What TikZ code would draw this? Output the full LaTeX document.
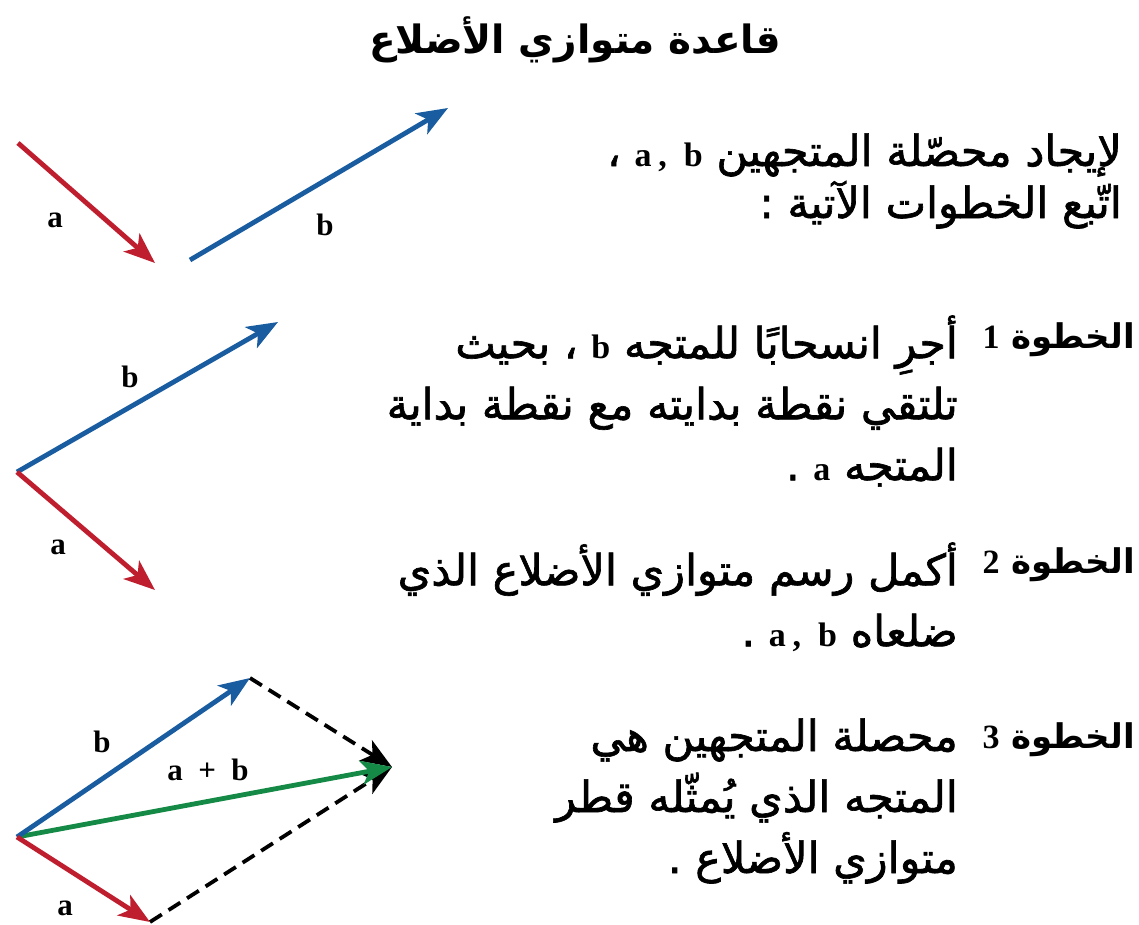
\documentclass[tikz,border=0pt]{standalone}
\usepackage{fontspec}
\setmainfont{Liberation Serif}
\newfontfamily\arabicfont[Script=Arabic]{DejaVu Sans}
\newfontfamily\arabicbody[Script=Arabic, FakeBold=1.5]{DejaVu Sans}
\TeXXeTstate=1
\usepackage{tikz}
\usetikzlibrary{arrows.meta}
\definecolor{vecred}{RGB}{190,30,45}
\definecolor{vecblue}{RGB}{25,92,160}
\definecolor{vecgreen}{RGB}{20,138,70}
\newcommand{\artext}[1]{\beginR#1\endR}
\newcommand{\lat}[1]{\beginL{\rmfamily\bfseries\fontsize{34}{38}\selectfont #1}\endL{}}
\newcommand{\ab}{a\hspace{0.2em},\hspace{0.5em}b}
\tikzstyle{vec} = [line width=4.8pt, -{Stealth[length=31pt, width=24pt, inset=8pt]}]
\tikzstyle{guide} = [vec, black, line width=3.8pt, dash pattern=on 14pt off 8pt]
\tikzstyle{veclabel} = [inner sep=0pt, font=\bfseries\fontsize{31}{34}\selectfont]
\tikzstyle{para} = [anchor=east, inner sep=0pt, align=right, font=\arabicbody\fontsize{43}{61}\selectfont]
\tikzstyle{steplabel} = [anchor=east, inner sep=0pt, font=\arabicfont\bfseries\fontsize{34}{40}\selectfont]
\tikzstyle{heading} = [inner sep=0pt, font=\arabicfont\bfseries\fontsize{39}{44}\selectfont]

\begin{document}
\begin{tikzpicture}[x=1pt, y=-1pt]
  \useasboundingbox (0,0) rectangle (1139,925);

  % title and introduction
  \node[heading] (title) at (575,40) {\artext{قاعدة متوازي الأضلاع}};
  \node[para, font=\arabicbody\fontsize{43}{52}\selectfont] (intro) at (1122,181)
    {\artext{لإيجاد محصّلة المتجهين \lat{\ab} ،}\\
     \artext{اتّبع الخطوات الآتية :}};

  % steps
  \node[steplabel] (step1) at (1135,340) {\artext{الخطوة \lat{1}}};
  \node[para] (step1txt) at (958,401)
    {\artext{أجرِ انسحابًا للمتجه \lat{b} ، بحيث}\\
     \artext{تلتقي نقطة بدايته مع نقطة بداية}\\
     \artext{المتجه \lat{a} .}};
  \node[steplabel] (step2) at (1135,565) {\artext{الخطوة \lat{2}}};
  \node[para] (step2txt) at (958,597)
    {\artext{أكمل رسم متوازي الأضلاع الذي}\\
     \artext{ضلعاه \lat{\ab} .}};
  \node[steplabel] (step3) at (1135,740) {\artext{الخطوة \lat{3}}};
  \node[para] (step3txt) at (958,801)
    {\artext{محصلة المتجهين هي}\\
     \artext{المتجه الذي يُمثّله قطر}\\
     \artext{متوازي الأضلاع .}};

  % vectors a and b apart
  \coordinate (a0) at (18,143);
  \coordinate (a1) at (155,263);
  \coordinate (b0) at (190,260);
  \coordinate (b1) at (448,108);
  \draw[vec, vecred] (a0) -- (a1);
  \draw[vec, vecblue] (b0) -- (b1);
  \node[veclabel] (la) at (55,220) {a};
  \node[veclabel] (lb) at (325,225) {b};

  % b moved to the tail of a
  \coordinate (o2) at (17,472);
  \coordinate (b2) at (278,322);
  \coordinate (a2) at (155,590);
  \draw[vec, vecblue] (o2) -- (b2);
  \draw[vec, vecred] (o2) -- (a2);
  \node[veclabel] (lb2) at (130,377) {b};
  \node[veclabel] (la2) at (58,547) {a};

  % parallelogram and resultant
  \coordinate (o3) at (17,837);
  \coordinate (b3) at (250,678);
  \coordinate (a3) at (150,922);
  \coordinate (s3) at (392,767);
  \draw[guide] (b3) -- (s3);
  \draw[guide] (a3) -- (s3);
  \draw[vec, vecgreen] (o3) -- (s3);
  \draw[vec, vecblue] (o3) -- (b3);
  \draw[vec, vecred] (o3) -- (a3);
  \node[veclabel] (lb3) at (102,742) {b};
  \node[veclabel] (ls3) at (208,770) {a\enspace+\enspace b};
  \node[veclabel] (la3) at (65,908) {a};
\end{tikzpicture}
\end{document}
